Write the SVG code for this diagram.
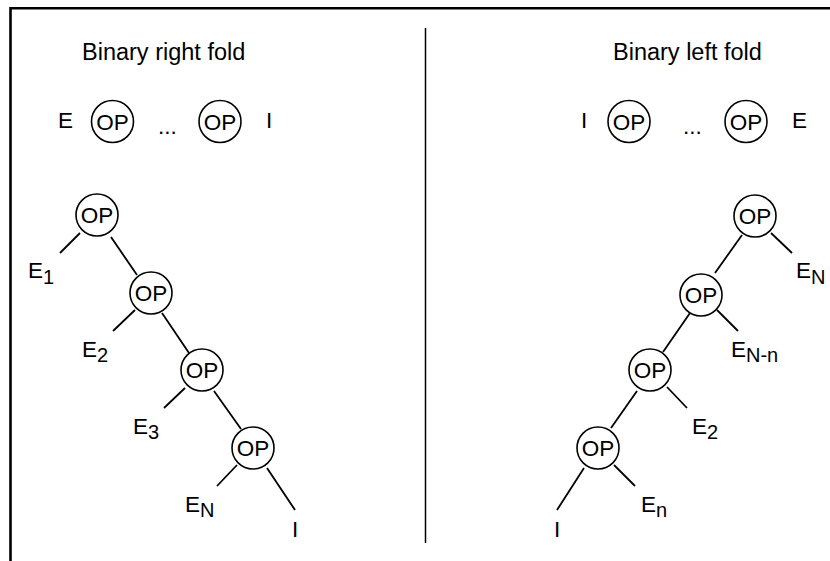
<svg xmlns="http://www.w3.org/2000/svg" width="830" height="561" viewBox="0 0 830 561">
<style>
  text { font-family: "Liberation Sans", Arial, sans-serif; fill: #000; }
  .t { font-size: 23.5px; }
  .l { font-size: 22.5px; }
  .s { font-size: 20px; }
  .op { font-size: 22.5px; text-anchor: middle; }
  .c { fill: #fff; stroke: #000; stroke-width: 1.6; }
  .e { stroke: #000; stroke-width: 1.8; fill: none; }
</style>
<rect x="0" y="0" width="830" height="561" fill="#fff"/>
<path d="M10.5 561 V8.3 H830" fill="none" stroke="#000" stroke-width="2.6"/>
<line x1="425.5" y1="28" x2="425.5" y2="543" stroke="#000" stroke-width="1.5"/>

<g id="connectors">
  <line class="e" x1="80" y1="233" x2="60" y2="253"/>
  <line class="e" x1="111" y1="237" x2="137" y2="275"/>
  <line class="e" x1="135" y1="310" x2="113" y2="331"/>
  <line class="e" x1="162" y1="313" x2="189" y2="353"/>
  <line class="e" x1="185" y1="388" x2="164" y2="408"/>
  <line class="e" x1="214" y1="391" x2="241" y2="429"/>
  <line class="e" x1="237" y1="465" x2="217" y2="486"/>
  <line class="e" x1="267" y1="468" x2="295" y2="510"/>
  <line class="e" x1="771" y1="233" x2="792" y2="253"/>
  <line class="e" x1="742" y1="235" x2="715" y2="273"/>
  <line class="e" x1="717" y1="310" x2="738" y2="331"/>
  <line class="e" x1="690" y1="313" x2="663" y2="352"/>
  <line class="e" x1="667" y1="387" x2="687" y2="408"/>
  <line class="e" x1="637" y1="391" x2="611" y2="428"/>
  <line class="e" x1="614" y1="465" x2="635" y2="486"/>
  <line class="e" x1="584" y1="468" x2="557" y2="510"/>
</g>

<g id="title-right-fold"><text class="t" x="82" y="60">Binary right fold</text></g>
<g id="title-left-fold"><text class="t" x="613" y="60">Binary left fold</text></g>

<g id="row-right-fold">
  <text class="l" x="58" y="128">E</text>
  <circle class="c" cx="112.5" cy="121.5" r="21"/>
  <text class="op" x="112.5" y="129.5">OP</text>
  <text class="l" x="158" y="134">...</text>
  <circle class="c" cx="220" cy="121.5" r="21"/>
  <text class="op" x="220" y="129.5">OP</text>
  <text class="l" x="266" y="128">I</text>
</g>

<g id="row-left-fold">
  <text class="l" x="581" y="128">I</text>
  <circle class="c" cx="629" cy="121.5" r="21"/>
  <text class="op" x="629" y="129.5">OP</text>
  <text class="l" x="683" y="134">...</text>
  <circle class="c" cx="746" cy="121.5" r="21"/>
  <text class="op" x="746" y="129.5">OP</text>
  <text class="l" x="792" y="128">E</text>
</g>

<g id="r-n1"><circle class="c" cx="97" cy="215" r="21"/><text class="op" x="97" y="223">OP</text></g>
<g id="r-n2"><circle class="c" cx="151" cy="293" r="21"/><text class="op" x="151" y="301">OP</text></g>
<g id="r-n3"><circle class="c" cx="202" cy="370" r="21"/><text class="op" x="202" y="378">OP</text></g>
<g id="r-n4"><circle class="c" cx="253" cy="448" r="21"/><text class="op" x="253" y="456">OP</text></g>
<g id="r-e1"><text class="l" x="28" y="278">E<tspan class="s" dy="6">1</tspan></text></g>
<g id="r-e2"><text class="l" x="82" y="357">E<tspan class="s" dy="5">2</tspan></text></g>
<g id="r-e3"><text class="l" x="133" y="434">E<tspan class="s" dy="5">3</tspan></text></g>
<g id="r-en"><text class="l" x="185" y="512">E<tspan class="s" dy="5">N</tspan></text></g>
<g id="r-i"><text class="l" x="292" y="537">I</text></g>

<g id="l-n1"><circle class="c" cx="755" cy="216" r="21"/><text class="op" x="755" y="224">OP</text></g>
<g id="l-n2"><circle class="c" cx="701" cy="295" r="21"/><text class="op" x="701" y="303">OP</text></g>
<g id="l-n3"><circle class="c" cx="650" cy="370" r="21"/><text class="op" x="650" y="378">OP</text></g>
<g id="l-n4"><circle class="c" cx="598" cy="448" r="21"/><text class="op" x="598" y="456">OP</text></g>
<g id="l-en"><text class="l" x="796" y="278">E<tspan class="s" dy="6">N</tspan></text></g>
<g id="l-enn"><text class="l" x="731" y="357">E<tspan class="s" dy="5">N-n</tspan></text></g>
<g id="l-e2"><text class="l" x="692" y="434">E<tspan class="s" dy="5">2</tspan></text></g>
<g id="l-en2"><text class="l" x="641" y="512">E<tspan class="s" dy="5">n</tspan></text></g>
<g id="l-i"><text class="l" x="554" y="537">I</text></g>
</svg>
